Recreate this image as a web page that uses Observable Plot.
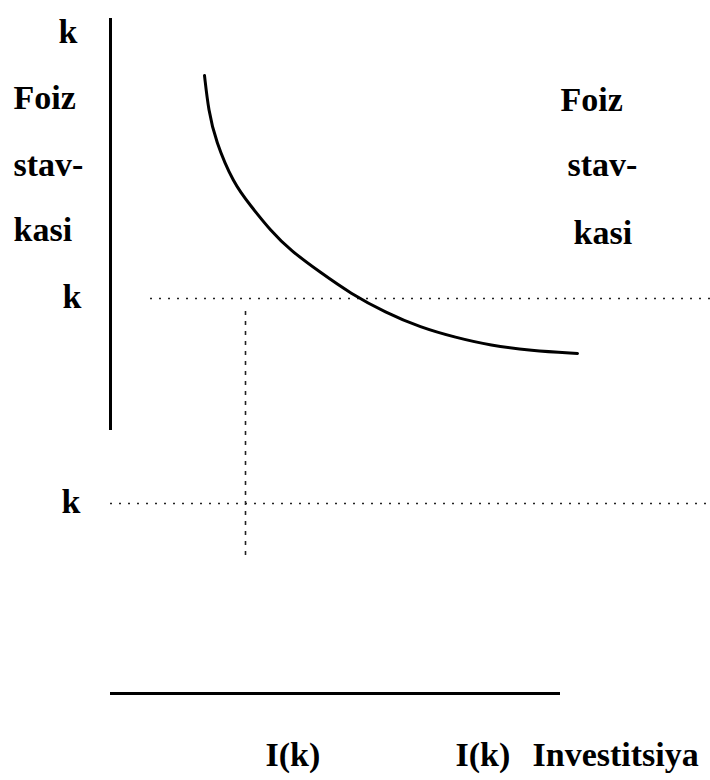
<!DOCTYPE html>
<html>
<head>
<meta charset="utf-8">
<script src="https://cdn.jsdelivr.net/npm/d3@7"></script>
<script src="https://cdn.jsdelivr.net/npm/@observablehq/plot@0.6"></script>
<style>
  html, body { margin: 0; padding: 0; background: #fff; }
  #chart svg { display: block; }
</style>
</head>
<body>
<div id="chart"></div>
<script>
// Investment demand curve (investment I vs interest rate k), schematic units
const curveInvestment = [94, 98, 105, 123, 140, 160, 180, 210, 240, 275, 310, 345, 380, 420, 467];
const curveRate       = [618, 583, 553, 510, 488, 463, 443, 421, 400, 381, 366, 356, 348, 343, 340];

// Axes extents
const rateAxis = [263, 675];          // vertical axis span (rate)
const investAxis = [0, 450];          // horizontal axis span (investment)

// Reference levels
const rateLevels = [395, 190];        // k levels (dotted horizontals)
const rateLevelStart = [40, 0];
const levelEnd = 600;
const investLevel = 135;              // I(k) (dotted vertical)
const investLevelSpan = [138, 383];

// Labels (in schematic units)
const labelText = ["k", "Foiz", "stav-", "kasi", "k", "k", "Foiz", "stav-", "kasi", "I(k)", "I(k)", "Investitsiya"];
const labelX    = [-52, -97, -97, -97, -48, -49, 450, 457, 463, 155, 345, 422];
const labelY    = [651, 585, 518, 453, 386, 181, 583, 518, 450, -72, -72, -72];

const curve = curveInvestment.map((x, i) => ({x, y: curveRate[i]}));
const labels = labelText.map((t, i) => ({t, x: labelX[i], y: labelY[i]}));
const hLevels = rateLevels.map((y, i) => ({x1: rateLevelStart[i], x2: levelEnd, y}));

const font = "'Liberation Serif', 'Times New Roman', serif";

const chart = Plot.plot({
  width: 710,
  height: 780,
  margin: 0,
  x: {domain: [-110, 600], range: [0, 710], axis: null},
  y: {domain: [-87, 693], range: [780, 0], axis: null},
  marks: [
    Plot.ruleY(hLevels, {y: "y", x1: "x1", x2: "x2", stroke: "#222", strokeWidth: 1.6, strokeDasharray: "2,7"}),
    Plot.ruleX([investLevel], {y1: investLevelSpan[0], y2: investLevelSpan[1], stroke: "#222", strokeWidth: 1.6, strokeDasharray: "4,6"}),
    Plot.ruleX([0], {y1: rateAxis[0], y2: rateAxis[1], stroke: "#000", strokeWidth: 3}),
    Plot.ruleY([0], {x1: investAxis[0], x2: investAxis[1], stroke: "#000", strokeWidth: 3}),
    Plot.line(curve, {x: "x", y: "y", curve: "basis", stroke: "#000", strokeWidth: 3}),
    Plot.text(labels, {x: "x", y: "y", text: "t", textAnchor: "start", lineAnchor: "bottom",
      fontSize: 34, fontWeight: "bold", fontFamily: font, fill: "#000"})
  ]
});
document.getElementById("chart").appendChild(chart);
</script>
</body>
</html>
